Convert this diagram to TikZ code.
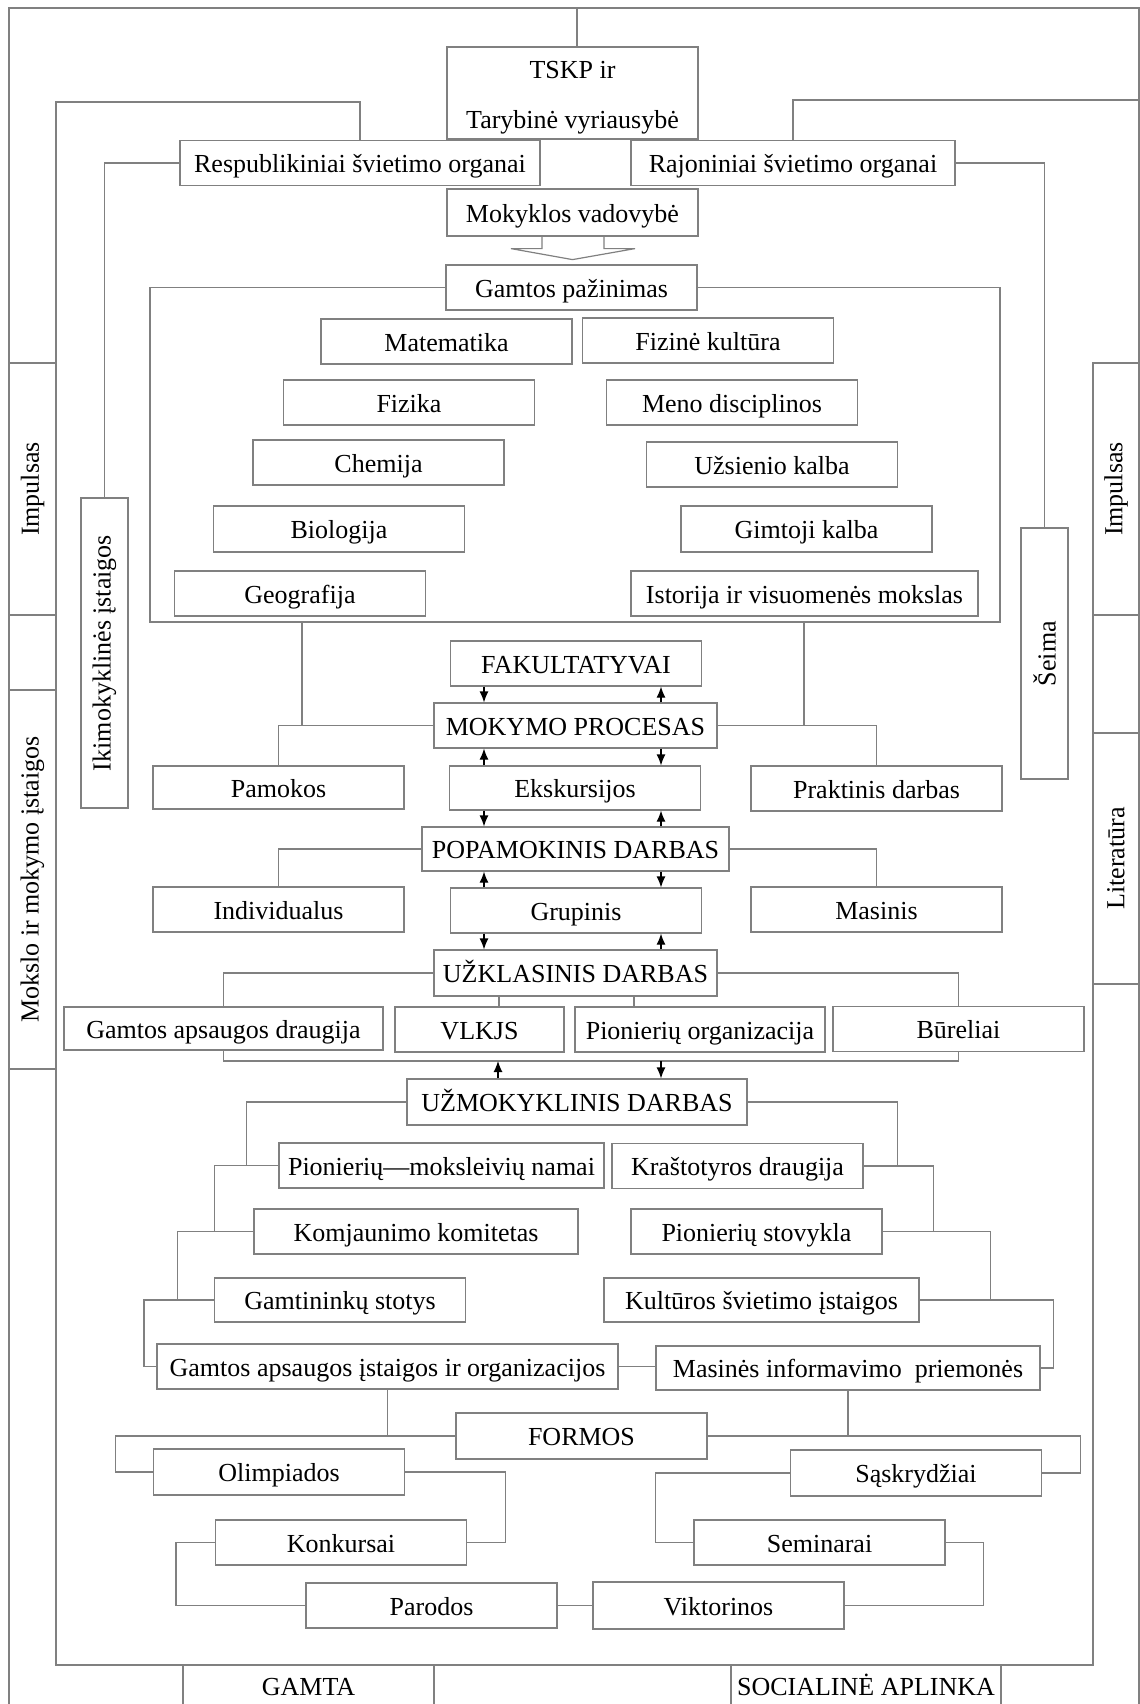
\documentclass[tikz,border=0pt]{standalone}
\usepackage{fontspec}
\setmainfont{Liberation Serif}
\usepackage{graphicx}
\usepackage{tikz}
\usetikzlibrary{arrows.meta}
\definecolor{linegray}{gray}{0.5}

\begin{document}
\begin{tikzpicture}[x=0.5pt, y=-0.5pt,
        every node/.style={font=\fontsize{13}{15.6}\selectfont},
        frame/.style={draw=linegray, line width=0.6pt, inner sep=1pt},
        box/.style={frame, minimum width=125.5pt, minimum height=22.5pt, text height=9.5pt, text depth=0pt},
        sidebox/.style={frame, minimum width=23.5pt},
        ln/.style={draw=linegray, line width=0.6pt},
        arr/.style={black, line width=0.6pt, -{Latex[length=5.5pt,width=4.5pt]}}]
        \useasboundingbox (0,0) rectangle (1140,1704);

        \node[frame, minimum width=125.5pt, minimum height=46pt, align=center] (tskp) at (572.5,93){\rule{0pt}{13.3pt}TSKP ir\\[9pt]Tarybinė vyriausybė};
        \node[box, minimum width=180pt] (resp) at (360,163){Respublikiniai švietimo organai};
        \node[box, minimum width=162pt] (raj) at (793,163){Rajoniniai švietimo organai};
        \node[box, minimum height=23.5pt] (mok) at (572.5,212.5){Mokyklos vadovybė};
        \node[box] (gp) at (571.5,287.5){Gamtos pažinimas};

        \node[box] (mat) at (446.5,341.5){Matematika};
        \node[box] (fk) at (708,340.5){Fizinė kultūra};
        \node[box] (fiz) at (409,402.5){Fizika};
        \node[box] (meno) at (732,402.5){Meno disciplinos};
        \node[box] (chem) at (378.5,462.5){Chemija};
        \node[box] (uzs) at (772,464.5){Užsienio kalba};
        \node[box, minimum height=23pt] (bio) at (339,529){Biologija};
        \node[box, minimum height=23pt] (gimt) at (806.5,529){Gimtoji kalba};
        \node[box] (geo) at (300,593.5){Geografija};
        \node[box, minimum width=173.5pt] (ist) at (804.5,593.5){Istorija ir visuomenės mokslas};

        \node[box] (fak) at (576,663.5){FAKULTATYVAI};
        \node[box, minimum width=141.5pt] (mp) at (575.5,725.5){MOKYMO PROCESAS};
        \node[box, minimum height=21.5pt] (pam) at (278.5,787.5){Pamokos};
        \node[box, minimum height=22pt] (eks) at (575,788){Ekskursijos};
        \node[box] (prak) at (876.5,788.5){Praktinis darbas};
        \node[box, minimum width=153.5pt, minimum height=22pt] (pop) at (575.5,849){POPAMOKINIS DARBAS};
        \node[box] (ind) at (278.5,909.5){Individualus};
        \node[box] (grup) at (576,910.5){Grupinis};
        \node[box] (mas) at (876.5,909.5){Masinis};
        \node[box, minimum width=141.5pt, minimum height=23pt] (uzk) at (575.5,973){UŽKLASINIS DARBAS};

        \node[box, minimum width=159.5pt, minimum height=21.5pt] (gad) at (223.5,1028.5){Gamtos apsaugos draugija};
        \node[box, minimum width=84.5pt] (vlkjs) at (479.5,1029.5){VLKJS};
        \node[box, minimum width=125pt] (porg) at (700,1029.5){Pionierių organizacija};
        \node[box] (bur) at (958.5,1029){Būreliai};

        \node[box, minimum width=170pt, minimum height=23pt] (uzm) at (577,1102){UŽMOKYKLINIS DARBAS};
        \node[box, minimum width=162.5pt] (pmn) at (441.5,1165.5){Pionierių—moksleivių namai};
        \node[box] (kras) at (737.5,1166){Kraštotyros draugija};
        \node[box, minimum width=162pt] (komj) at (416,1231.5){Komjaunimo komitetas};
        \node[box] (pst) at (756.5,1231.5){Pionierių stovykla};
        \node[box, minimum height=22pt] (gst) at (340,1300){Gamtininkų stotys};
        \node[box, minimum width=157.5pt, minimum height=22pt] (kult) at (761.5,1300){Kultūros švietimo įstaigos};
        \node[box, minimum width=230.5pt] (gai) at (387.5,1366.5){Gamtos apsaugos įstaigos ir organizacijos};
        \node[box, minimum width=192pt, minimum height=22pt] (mip) at (848,1368){Masinės informavimo~ priemonės};

        \node[box, minimum height=23pt] (formos) at (581.5,1436){FORMOS};
        \node[box, minimum height=23pt] (olim) at (279,1472){Olimpiados};
        \node[box, minimum height=23pt] (sask) at (916,1473){Sąskrydžiai};
        \node[box] (konk) at (341,1542.5){Konkursai};
        \node[box] (sem) at (819.5,1542.5){Seminarai};
        \node[box] (par) at (431.5,1605.5){Parodos};
        \node[box, minimum height=23.5pt] (vikt) at (718.5,1605.5){Viktorinos};

        \node[box, minimum height=20.5pt] (gamta) at (308.5,1685.5){GAMTA};
        \node[box, minimum width=135pt, minimum height=20.5pt] (soc) at (866,1685.5){SOCIALINĖ APLINKA};

        \node[sidebox, minimum height=126pt] (impL) at (32.5,489){\rotatebox{90}{Impulsas}};
        \node[sidebox, minimum height=189.5pt] (mokslo) at (32.5,879.5){\rotatebox{90}{Mokslo ir mokymo įstaigos}};
        \node[sidebox, minimum height=155pt] (iki) at (104.5,653){\rotatebox{90}{Ikimokyklinės įstaigos}};
        \node[sidebox, minimum height=125.5pt] (seima) at (1044.5,653.5){\rotatebox{90}{Šeima}};
        \node[sidebox, minimum width=23pt, minimum height=126pt] (impR) at (1116,489){\rotatebox{90}{Impulsas}};
        \node[sidebox, minimum width=23pt, minimum height=125.5pt] (lit) at (1116,858.5){\rotatebox{90}{Literatūra}};

        \coordinate (topc) at (577,8);
        \draw[ln](9,1704)--(9,8)--(1139,8)--(1139,1704);
        \draw[ln](topc)--(topc|-tskp.north);
        \draw[ln](resp.north)|-(56,102)--(56,1665)--(1093,1665)--(1093,363);
        \draw[ln](raj.north)|-(1139,100);
        \draw[ln](resp.west)-|(iki.north);
        \draw[ln](raj.east)-|(seima.north);
        \draw[ln](mok.south)++(-30.5,0)--++(0,12)--++(-31,0)--++(61.5,11)--++(62.5,-11)--++(-31,0)--++(0,-12);

        \draw[ln](gp.west)-|(150,622)--(1000,622)|-(gp.east);
        \draw[ln](302,622)|-(mp.west);
        \draw[ln](804,622)|-(mp.east);
        \draw[ln](mp.west)-|(pam.north);
        \draw[ln](mp.east)-|(prak.north);

        \coordinate (la) at (484,0);
        \coordinate (ra) at (661,0);
        \coordinate (lb) at (498,0);
        \draw[arr](la|-fak.south)--(la|-mp.north);
        \draw[arr](ra|-mp.north)--(ra|-fak.south);
        \draw[arr](la|-eks.north)--(la|-mp.south);
        \draw[arr](ra|-mp.south)--(ra|-eks.north);
        \draw[arr](la|-eks.south)--(la|-pop.north);
        \draw[arr](ra|-pop.north)--(ra|-eks.south);
        \draw[arr](la|-grup.north)--(la|-pop.south);
        \draw[arr](ra|-pop.south)--(ra|-grup.north);
        \draw[arr](la|-grup.south)--(la|-uzk.north);
        \draw[arr](ra|-uzk.north)--(ra|-grup.south);

        \draw[ln](pop.west)-|(ind.north);
        \draw[ln](pop.east)-|(mas.north);
        \draw[ln](uzk.west)-|(gad.north);
        \draw[ln](uzk.east)-|(bur.north);
        \coordinate (va) at (499,0);
        \coordinate (vb) at (634,0);
        \draw[ln](va|-uzk.south)--(va|-vlkjs.north);
        \draw[ln](vb|-uzk.south)--(vb|-porg.north);
        \coordinate (brk) at (0,1061);
        \draw[ln](gad.south)--(gad.south|-brk)-|(bur.south);
        \draw[arr](lb|-uzm.north)--(lb|-brk);
        \draw[arr](ra|-brk)--(ra|-uzm.north);

        \draw[ln](uzm.west)-|([xshift=-16pt]pmn.west);
        \draw[ln](pmn.west)--++(-64,0)|-(komj.west);
        \draw[ln](komj.west)--++(-76,0)|-(gst.west);
        \draw[ln](gst.west)--++(-70,0)|-(gai.west);
        \draw[ln](uzm.east)-|([xshift=17pt]kras.east);
        \draw[ln](kras.east)--++(70,0)|-(pst.east);
        \draw[ln](pst.east)--++(108,0)|-(kult.east);
        \draw[ln](kult.east)--++(134,0)|-(mip.east);
        \draw[ln](gai.east)--(gai.east-|mip.west);

        \draw[ln](gai.south)|-(formos.west);
        \draw[ln](mip.south)|-(formos.east);
        \draw[ln](formos.west)--++(-340,0)|-(olim.west);
        \draw[ln](formos.east)--++(373,0)|-(sask.east);
        \draw[ln](olim.east)--++(100,0)|-(konk.east);
        \draw[ln](konk.west)--++(-39,0)|-(par.west);
        \draw[ln](par.east)--(vikt.west);
        \draw[ln](vikt.east)--++(139,0)|-(sem.east);
        \draw[ln](sem.west)--++(-38,0)|-(sask.west);
    \end{tikzpicture}
\end{document}
